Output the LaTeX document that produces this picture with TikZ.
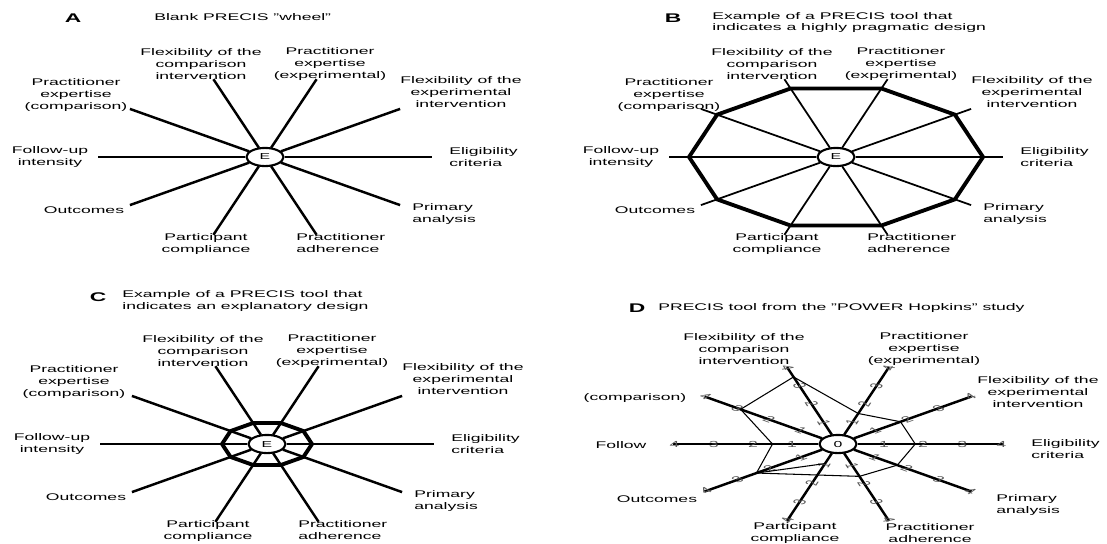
\documentclass[tikz,border=0pt]{standalone}
\usepackage{fontspec}
\setmainfont{Liberation Sans}
\usetikzlibrary{shapes.geometric}

\tikzset{
	lbl/.style = {font=\fontsize{10}{12}\selectfont, align=center, inner sep=0pt, yscale=0.55},
	ttl/.style = {lbl, align=left, anchor=west},
	panel/.style = {font=\fontsize{13}{13}\selectfont\bfseries, inner sep=0pt, yscale=0.55},
	hub/.style = {ellipse, draw, line width=1.2pt, fill=white, minimum width=7.4mm, minimum height=6.6mm, inner sep=0pt, yscale=0.55, font=\fontsize{9}{9}\selectfont},
	spoke/.style = {line width=1.4pt},
	thinspoke/.style = {line width=1pt},
	rim/.style = {line width=2.2pt, line join=round},
	tick/.style = {font=\fontsize{10}{10}\selectfont, text=black!65, inner sep=0pt, yscale=0.5},
	data/.style = {line width=0.6pt, line join=round}
}

\newcommand{\wheellabels}[2]{%
	\node[lbl] (#1fc) at (-64,-93) {Flexibility of the\\comparison\\intervention};
	\node[lbl] (#1pe) at (65,-93) {Practitioner\\expertise\\(experimental)};
	\node[lbl] (#1fe) at (196,-65) {Flexibility of the\\experimental\\intervention};
	\node[lbl] (#1pc) at (#2,-62) {Practitioner\\expertise\\(comparison)};
	\node[lbl] (#1fu) at (-215,0) {Follow-up\\intensity};
	\node[lbl, anchor=west, align=left] (#1ec) at (184,0) {Eligibility\\criteria};
	\node[lbl] (#1oc) at (-181,53) {Outcomes};
	\node[lbl] (#1pa) at (-59,87) {Participant\\compliance};
	\node[lbl, anchor=west, align=left] (#1ad) at (31,86) {Practitioner\\adherence};
	\node[lbl, anchor=west, align=left] (#1an) at (147,57) {Primary\\analysis};
}

\begin{document}
\begin{tikzpicture}[x=0.2mm, y=-0.2mm]
	\useasboundingbox[fill=white] (0,0) rectangle (1107,543);

	% panel A
	\node[panel] (alet) at (73,18) {A};
	\node[ttl] (atit) at (154,17) {Blank PRECIS "wheel"};
	\begin{scope}[shift={(265,157)}]
		\wheellabels{a}{-189}
		\begin{scope}[yscale=-0.49]
			\node[hub] (a0) at (0,0) {E};
			\foreach \k in {1,...,10}
				\coordinate (a\k) at ({36*(\k-1)}:167);
			\foreach \k in {1,...,10}
				\draw[spoke] (a0) -- (a\k);
		\end{scope}
	\end{scope}

	% panel B
	\node[panel] (blet) at (673,18) {B};
	\node[ttl] (btit) at (712,22.5) {Example of a PRECIS tool that\\indicates a highly pragmatic design};
	\begin{scope}[shift={(836,157)}]
		\wheellabels{b}{-167}
		\begin{scope}[yscale=-0.49]
			\node[hub] (b0) at (0,0) {E};
			\foreach \k in {1,...,10}
				\coordinate (b\k) at ({36*(\k-1)}:167);
			\foreach \k in {1,...,10}
				\coordinate (bv\k) at ({36*(\k-1)}:147);
			\foreach \k in {1,...,10}
				\draw[thinspoke] (b0) -- (b\k);
			\draw[rim] (bv1) -- (bv2) -- (bv3) -- (bv4) -- (bv5) -- (bv6) -- (bv7) -- (bv8) -- (bv9) -- (bv10) -- cycle;
		\end{scope}
	\end{scope}

	% panel C
	\node[panel] (clet) at (98,297) {C};
	\node[ttl] (ctit) at (122,301) {Example of a PRECIS tool that\\indicates an explanatory design};
	\begin{scope}[shift={(267,444)}]
		\wheellabels{c}{-193}
		\begin{scope}[yscale=-0.49]
			\node[hub] (c0) at (0,0) {E};
			\foreach \k in {1,...,10}
				\coordinate (c\k) at ({36*(\k-1)}:167);
			\foreach \k in {1,...,10}
				\coordinate (cv\k) at ({36*(\k-1)}:45);
			\foreach \k in {1,...,10}
				\draw[spoke] (c0) -- (c\k);
			\draw[rim] (cv1) -- (cv2) -- (cv3) -- (cv4) -- (cv5) -- (cv6) -- (cv7) -- (cv8) -- (cv9) -- (cv10) -- cycle;
		\end{scope}
	\end{scope}

	% panel D
	\node[panel] (dlet) at (637,308) {D};
	\node[ttl] (dtit) at (658,308) {PRECIS tool from the "POWER Hopkins" study};
	\begin{scope}[shift={(838,446)}]
		\node[lbl] (dfc) at (-94,-97) {Flexibility of the\\comparison\\intervention};
		\node[lbl] (dpe) at (86,-97) {Practitioner\\expertise\\(experimental)};
		\node[lbl] (dfe) at (200,-54) {Flexibility of the\\experimental\\intervention};
		\node[lbl] (dpc) at (-203,-48) {(comparison)};
		\node[lbl] (dfu) at (-217,-1) {Follow};
		\node[lbl, anchor=west, align=left] (dec) at (193,3) {Eligibility\\criteria};
		\node[lbl] (doc) at (-181,53) {Outcomes};
		\node[lbl] (dpa) at (-43,87) {Participant\\compliance};
		\node[lbl] (dad) at (92,87) {Practitioner\\adherence};
		\node[lbl, anchor=west, align=left] (dan) at (158,59) {Primary\\analysis};
		\begin{scope}[shift={(0,-2)}, yscale=-0.49]
			\node[hub] (d0) at (0,0) {0};
			\foreach \k in {1,...,10}
				\coordinate (d\k) at ({36*(\k-1)}:165);
			\foreach \k in {1,...,10}
				\draw[spoke] (d0) -- (d\k);
			\foreach \k in {1,...,10}
				\foreach \v in {1,...,4}
					\node[tick, rotate={atan(tan(36*(\k-1)))}] (dt\k-\v) at ({36*(\k-1)}:{6.7+39.2*\v}) {\v};
			\foreach \k/\v in {1/1.8, 2/1.8, 3/1.5, 4/3.5, 5/2.9, 6/1.5, 7/2.4, 8/0.9, 9/1.6, 10/1.7}
				\coordinate (dv\k) at ({36*(\k-1)}:{6.7+39.2*\v});
			\draw[data] (dv1) -- (dv2) -- (dv3) -- (dv4) -- (dv5) -- (dv6) -- (dv7) -- (dv9) -- (dv10) -- cycle;
			\draw[data] (dv7) -- (dv8);
		\end{scope}
	\end{scope}
\end{tikzpicture}
\end{document}
